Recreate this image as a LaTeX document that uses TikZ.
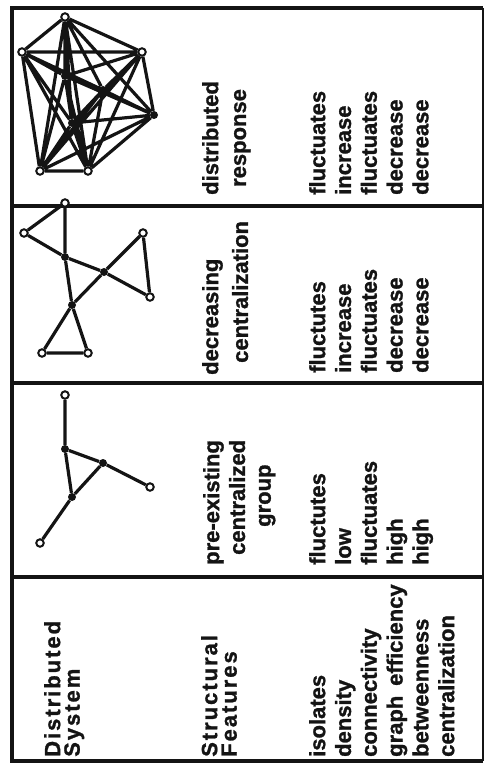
\documentclass[tikz,border=0pt]{standalone}
\usepackage{fontspec}
\setmainfont{Liberation Sans}[BoldFont={Liberation Sans Bold},BoldFeatures={FakeBold=1.2}]
\usepackage{tikz}
\definecolor{ink}{HTML}{141414}

\begin{document}
\begin{tikzpicture}[x=1pt,y=-1pt,
  rule/.style={draw=ink,line width=3.6pt},
  edge/.style={draw=ink,line width=3.2pt},
  opn/.style={circle,draw=ink,fill=white,line width=2pt,inner sep=0pt,minimum size=7.5pt},
  hub/.style={circle,fill=ink,inner sep=0pt,minimum size=8pt},
  txt/.style={rotate=90,anchor=north west,inner sep=0pt,align=left,text=ink,
              font=\bfseries\fontsize{22}{25.8}\selectfont},
  hdr/.style={txt,font=\bfseries\fontsize{22}{19.5}\selectfont\addfontfeature{LetterSpace=9}}
]
\useasboundingbox (0,0) rectangle (486,767);
% frame and rows
\draw[rule] (483,8) -- (12,8) -- (12,761) -- (483,761);
\draw[draw=ink,line width=1.8pt] (483,8) -- (483,761);
\draw[rule] (12,206) -- (483,206);
\draw[rule] (12,383) -- (483,383);
\draw[rule] (12,577) -- (483,577);

% distributed response
\node[opn] (r1) at (65,17)  {};
\node[opn] (r2) at (22,52)  {};
\node[opn] (r3) at (142,52) {};
\node[hub] (r4) at (154,115) {};
\node[hub] (r5) at (65,76)  {};
\node[hub] (r6) at (103,90) {};
\node[hub] (r7) at (72,123) {};
\node[opn] (r8) at (40,171) {};
\node[opn] (r9) at (88,171) {};
\draw[edge] (r1) -- (r2) (r1) -- (r3) (r1) -- (r4) (r1) -- (r5) (r1) -- (r6) (r1) -- (r7) (r1) -- (r8) (r1) -- (r9)
            (r2) -- (r3) (r2) -- (r4) (r2) -- (r5) (r2) -- (r6) (r2) -- (r7) (r2) -- (r8) (r2) -- (r9)
            (r3) -- (r4) (r3) -- (r5) (r3) -- (r6) (r3) -- (r7) (r3) -- (r8) (r3) -- (r9)
            (r4) -- (r5) (r4) -- (r6) (r4) -- (r7) (r4) -- (r8) (r4) -- (r9)
            (r5) -- (r6) (r5) -- (r7) (r5) -- (r8) (r5) -- (r9)
            (r6) -- (r7) (r6) -- (r8) (r6) -- (r9)
            (r7) -- (r8) (r7) -- (r9)
            (r8) -- (r9);

% decreasing centralization
\node[opn] (d1) at (65,203)  {};
\node[opn] (d2) at (24,233)  {};
\node[hub] (d3) at (65,257)  {};
\node[hub] (d4) at (104,272) {};
\node[opn] (d5) at (143,233) {};
\node[opn] (d6) at (150,297) {};
\node[hub] (d7) at (72,305)  {};
\node[opn] (d8) at (42,353)  {};
\node[opn] (d9) at (88,353)  {};
\draw[edge] (d1) -- (d2) (d1) -- (d3) (d2) -- (d3) (d3) -- (d4) (d4) -- (d6)
            (d5) -- (d4) (d4) -- (d7) (d5) -- (d6) (d3) -- (d7)
            (d7) -- (d8) (d7) -- (d9) (d8) -- (d9);

% pre-existing centralized group
\node[opn] (p1) at (65,395)  {};
\node[hub] (p2) at (65,449)  {};
\node[hub] (p3) at (103,463) {};
\node[hub] (p4) at (72,497)  {};
\node[opn] (p5) at (150,487) {};
\node[opn] (p6) at (40,543)  {};
\draw[edge] (p1) -- (p2) (p2) -- (p3) (p2) -- (p4) (p3) -- (p4) (p3) -- (p5) (p4) -- (p6);

% texts
\node[txt,align=center] (hd1) at (202,195) {distributed\\[2pt]response};
\node[txt] (vl1) at (309,195) {fluctuates\\increase\\fluctuates\\decrease\\decrease};
\node[txt] (hd2) at (202,375) {decreasing\\[4pt]\hspace*{12pt}centralization};
\node[txt] (vl2) at (309,373) {fluctutes\\increase\\fluctuates\\decrease\\decrease};
\node[txt] (hd3) at (203,565) {pre-existing\\\hspace*{10pt}centralized\\\hspace*{38pt}group};
\node[txt] (vl3) at (309,565) {fluctutes\\low\\fluctuates\\high\\high};
\node[hdr] (sys) at (44,757)  {Distributed\\System};
\node[hdr] (ftr) at (201,757) {Structural\\Features};
\node[txt] (vl4) at (309,757) {isolates\\density\\connectivity\\graph\hspace{0.45em}efficiency\\betweenness\\centralization};
\end{tikzpicture}
\end{document}
